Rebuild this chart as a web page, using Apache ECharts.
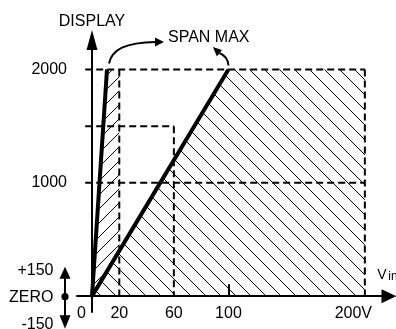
<!DOCTYPE html>
<html>
<head>
<meta charset="utf-8">
<style>html,body{margin:0;padding:0;background:#fff;}#c{width:396px;height:329px;}</style>
<script src="https://cdn.jsdelivr.net/npm/echarts@6/dist/echarts.min.js"></script>
</head>
<body>
<div id="c"></div>
<script>
// ---- data ----
const xTicks = [0, 20, 60, 100, 200];
const xTickLabels = ['0', '20', '60', '100', '200V'];
const xMarkTicks = [100];
const yTicks = [1000, 2000];
const steepLine = [[0, 0], [11, 2000]];
const line100 = [[0, 0], [100, 2000]];
const dashH2000 = [[-5, 2000], [200, 2000]];
const dashH1500 = [[-5, 1500], [60, 1500]];
const dashH1000 = [[-5, 1000], [200, 1000]];
const dashV20 = [[20, 2000], [20, 0]];
const dashV60 = [[60, 1500], [60, 0]];
const dashV200 = [[200, 2000], [200, 0]];
const hatchLeft = [[0, 0], [11, 2000], [20, 2000], [20, 400]];
const hatchRight = [[0, 0], [100, 2000], [200, 2000], [200, 0]];
const yAxisTitle = 'DISPLAY';
const spanLabel = 'SPAN MAX';
const zeroLabels = ['+150', 'ZERO', '-150'];
const xAxisTitle = ['V', 'in'];

const FONT = '"Liberation Sans", Arial, sans-serif';

function makeHatch(size, dir) {
  const c = document.createElement('canvas');
  c.width = size; c.height = size;
  const ctx = c.getContext('2d');
  ctx.strokeStyle = '#000';
  ctx.lineWidth = 1;
  ctx.beginPath();
  for (const k of [-size, 0, size]) {
    if (dir === 'back') { ctx.moveTo(k, 0); ctx.lineTo(k + size, size); }
    else { ctx.moveTo(k, size); ctx.lineTo(k + size, 0); }
  }
  ctx.stroke();
  return { image: c, repeat: 'repeat' };
}
const patBack = makeHatch(15, 'back');
const patFwd = makeHatch(14, 'fwd');

function regionSeries(region, pattern) {
  return {
    type: 'custom',
    data: region,
    silent: true,
    z: 1,
    renderItem: function (params, api) {
      if (params.dataIndex !== 0) return;
      return {
        type: 'polygon',
        shape: { points: region.map(p => api.coord(p)) },
        style: { fill: pattern, stroke: null }
      };
    }
  };
}
function dashSeries(d) {
  return {
    type: 'line', data: d, showSymbol: false, silent: true, z: 2,
    lineStyle: { color: '#000', width: 2, type: [7, 4] }
  };
}
function thickSeries(d) {
  return {
    type: 'line', data: d, showSymbol: false, silent: true, z: 3,
    lineStyle: { color: '#000', width: 4 }
  };
}

const chart = echarts.init(document.getElementById('c'), null, { renderer: 'canvas' });
chart.setOption({
  animation: false,
  backgroundColor: '#fff',
  textStyle: { fontFamily: FONT },
  grid: { left: 77, top: 40, width: 312, height: 272, containLabel: false, outerBoundsMode: 'none' },
  xAxis: {
    type: 'value', min: -11, max: 217.7,
    splitLine: { show: false },
    axisLine: { onZero: true, lineStyle: { color: '#000', width: 2 }, symbol: ['none', 'triangle'], symbolSize: [14, 15] },
    axisTick: { show: true, customValues: xMarkTicks, inside: true, length: 12, lineStyle: { color: '#000', width: 2 } },
    axisLabel: {
      customValues: xTicks, margin: -6, color: '#000', fontSize: 16, fontFamily: FONT,
      formatter: function (v) {
        const i = xTicks.indexOf(v);
        const t = xTickLabels[i];
        if (i === 0) return '{l|' + t + '}';
        if (i === xTicks.length - 1) return '{r|' + t + '}';
        return '{n|' + t + '}';
      },
      rich: {
        l: { fontSize: 16, fontFamily: FONT, color: '#000', padding: [0, 21, 0, 0] },
        r: { fontSize: 16, fontFamily: FONT, color: '#000', padding: [0, 23, 0, 0] },
        n: { fontSize: 16, fontFamily: FONT, color: '#000' }
      }
    }
  },
  yAxis: {
    type: 'value', min: -140, max: 2260,
    name: yAxisTitle, nameLocation: 'end', nameGap: 10,
    nameTextStyle: { color: '#000', fontSize: 16, fontFamily: FONT },
    splitLine: { show: false },
    axisLine: { onZero: true, lineStyle: { color: '#000', width: 2 }, symbol: ['none', 'triangle'], symbolSize: [11, 20] },
    axisTick: { show: false },
    axisLabel: { customValues: yTicks, margin: 10, color: '#000', fontSize: 16, fontFamily: FONT,
      formatter: function (v) { return String(v); } }
  },
  series: [
    regionSeries(hatchRight, patBack),
    regionSeries(hatchLeft, patFwd),
    dashSeries(dashH2000), dashSeries(dashH1500), dashSeries(dashH1000),
    dashSeries(dashV20), dashSeries(dashV60), dashSeries(dashV200),
    thickSeries(steepLine), thickSeries(line100)
  ]
});

const px = p => chart.convertToPixel({ gridIndex: 0 }, p);
const o = px([0, 0]);
const s1 = px(steepLine[1]);
const s2 = px(line100[1]);
const e200 = px([200, 0]);
const cx = o[0] - 27;
const blk = { fill: '#000' };
function txt(t, x, y, align, size) {
  return { type: 'text', x: x, y: y, silent: true, z: 10,
    style: { text: t, fill: '#000', fontSize: size || 16, fontFamily: FONT, align: align, verticalAlign: 'middle' } };
}
chart.setOption({
  graphic: [
    txt(spanLabel, s1[0] + 61, s1[1] - 32, 'left'),
    { type: 'bezierCurve', silent: true, z: 10,
      shape: { x1: s1[0] + 2, y1: s1[1] - 6, cpx1: s1[0] + 5, cpy1: s1[1] - 20, cpx2: s1[0] + 18, cpy2: s1[1] - 27, x2: s1[0] + 49, y2: s1[1] - 27.5 },
      style: { stroke: '#000', lineWidth: 2, fill: null } },
    { type: 'polygon', silent: true, z: 10,
      shape: { points: [[s1[0] + 57, s1[1] - 27.5], [s1[0] + 48, s1[1] - 32], [s1[0] + 48, s1[1] - 23]] }, style: blk },
    { type: 'bezierCurve', silent: true, z: 10,
      shape: { x1: s2[0], y1: s2[1] - 4, cpx1: s2[0] - 0.5, cpy1: s2[1] - 13, x2: s2[0] - 9, y2: s2[1] - 16.5 },
      style: { stroke: '#000', lineWidth: 2, fill: null } },
    { type: 'polygon', silent: true, z: 10,
      shape: { points: [[s2[0] - 15.5, s2[1] - 22.5], [s2[0] - 6.5, s2[1] - 19.5], [s2[0] - 11.5, s2[1] - 13]] }, style: blk },
    // zero adjust indicator
    { type: 'line', silent: true, z: 10, shape: { x1: cx, y1: o[1] - 18, x2: cx, y2: o[1] + 20 }, style: { stroke: '#000', lineWidth: 2 } },
    { type: 'polygon', silent: true, z: 10, shape: { points: [[cx, o[1] - 29.5], [cx - 5.5, o[1] - 17.5], [cx + 5.5, o[1] - 17.5]] }, style: blk },
    { type: 'polygon', silent: true, z: 10, shape: { points: [[cx, o[1] + 32.5], [cx - 5.5, o[1] + 19], [cx + 5.5, o[1] + 19]] }, style: blk },
    { type: 'circle', silent: true, z: 10, shape: { cx: cx, cy: o[1] + 0.5, r: 3.6 }, style: blk },
    txt(zeroLabels[0], cx - 11.5, o[1] - 25.7, 'right'),
    txt(zeroLabels[1], cx - 11.5, o[1] + 1.5, 'right'),
    txt(zeroLabels[2], cx - 11.5, o[1] + 28, 'right'),
    txt(xAxisTitle[0], e200[0] + 12.5, o[1] - 20.5, 'left', 14),
    txt(xAxisTitle[1], e200[0] + 23.5, o[1] - 19, 'left', 12)
  ]
});
</script>
</body>
</html>
